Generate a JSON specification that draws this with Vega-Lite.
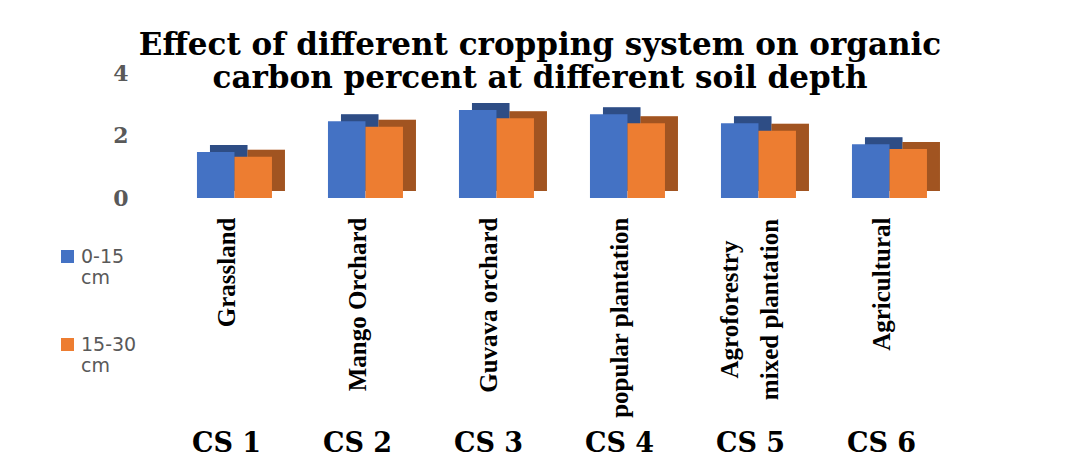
{
  "$schema": "https://vega.github.io/schema/vega-lite/v6.json",
  "width": 786,
  "height": 125,
  "autosize": "none",
  "padding": {"left": 169, "top": 73, "right": 111, "bottom": 262},
  "background": "white",
  "title": {
    "text": ["Effect of different cropping system on organic", "carbon percent at different soil depth"],
    "font": "DejaVu Serif",
    "fontSize": 31,
    "fontWeight": "bold",
    "color": "black",
    "anchor": "middle",
    "dx": -22,
    "offset": -33,
    "lineHeight": 33
  },
  "data": {
    "values": [
      {"cs": "CS 1", "system": "Grassland", "depth": "0-15 cm", "oc": 1.47},
      {"cs": "CS 1", "system": "Grassland", "depth": "15-30 cm", "oc": 1.32},
      {"cs": "CS 2", "system": "Mango Orchard", "depth": "0-15 cm", "oc": 2.46},
      {"cs": "CS 2", "system": "Mango Orchard", "depth": "15-30 cm", "oc": 2.28},
      {"cs": "CS 3", "system": "Guvava orchard", "depth": "0-15 cm", "oc": 2.82},
      {"cs": "CS 3", "system": "Guvava orchard", "depth": "15-30 cm", "oc": 2.55},
      {"cs": "CS 4", "system": "popular plantation", "depth": "0-15 cm", "oc": 2.68},
      {"cs": "CS 4", "system": "popular plantation", "depth": "15-30 cm", "oc": 2.39},
      {"cs": "CS 5", "system": "Agroforestry mixed plantation", "depth": "0-15 cm", "oc": 2.39},
      {"cs": "CS 5", "system": "Agroforestry mixed plantation", "depth": "15-30 cm", "oc": 2.15},
      {"cs": "CS 6", "system": "Agricultural", "depth": "0-15 cm", "oc": 1.72},
      {"cs": "CS 6", "system": "Agricultural", "depth": "15-30 cm", "oc": 1.57}
    ]
  },
  "encoding": {
    "color": {
      "field": "depth",
      "type": "nominal",
      "scale": {"domain": ["0-15 cm", "15-30 cm"], "range": ["#4472C4", "#ED7D31"]},
      "legend": {
        "orient": "none",
        "legendX": -111,
        "legendY": 174,
        "title": null,
        "symbolType": "square",
        "symbolSize": 170,
        "symbolStrokeWidth": 0,
        "labelFont": "DejaVu Sans",
        "labelFontSize": 19,
        "labelColor": "#595959",
        "labelLineHeight": 24,
        "labelExpr": "split(datum.label, ' ')",
        "rowPadding": 47
      }
    },
    "y": {
      "field": "oc",
      "type": "quantitative",
      "scale": {"domain": [0, 4], "nice": false},
      "axis": {
        "values": [0, 2, 4],
        "domain": false,
        "ticks": false,
        "grid": false,
        "title": null,
        "labelFont": "DejaVu Serif",
        "labelFontSize": 22,
        "labelFontWeight": "bold",
        "labelColor": "#595959",
        "labelPadding": 41
      }
    }
  },
  "layer": [
    {
      "mark": {"type": "bar", "yOffset": -7, "y2Offset": -7},
      "encoding": {
        "x": {
          "field": "cs",
          "type": "nominal",
          "sort": null,
          "scale": {"paddingInner": 0.427, "paddingOuter": 0.2135},
          "axis": {
            "orient": "bottom",
            "title": null,
            "domain": false,
            "ticks": false,
            "labelAngle": -90,
            "labelFont": "Liberation Serif",
            "labelFontSize": 25,
            "labelFontWeight": "bold",
            "labelColor": "black",
            "labelPadding": {"condition": {"test": "datum.value == 'CS 5'", "value": 111}, "value": 19},
            "labelAlign": {"condition": {"test": "datum.value == 'CS 5'", "value": "center"}, "value": "right"},
            "labelOffset": {"condition": {"test": "datum.value == 'CS 5'", "value": -29}, "value": -8},
            "labelLineHeight": 40,
            "labelLimit": 400,
            "labelOverlap": false,
            "labelBound": false,
            "labelExpr": "{'CS 1': 'Grassland', 'CS 2': 'Mango Orchard', 'CS 3': 'Guvava orchard', 'CS 4': 'popular plantation', 'CS 5': ['Agroforestry', 'mixed plantation'], 'CS 6': 'Agricultural'}[datum.label]"
          }
        },
        "xOffset": {"field": "depth", "type": "nominal", "sort": ["0-15 cm", "15-30 cm"], "scale": {"paddingInner": 0, "paddingOuter": 0, "range": [13, 88]}}
      }
    },
    {
      "mark": {"type": "bar", "yOffset": -7, "y2Offset": -7, "opacity": 0.32},
      "encoding": {
        "x": {"field": "cs", "type": "nominal", "sort": null, "scale": {"paddingInner": 0.427, "paddingOuter": 0.2135}, "axis": null},
        "xOffset": {"field": "depth", "type": "nominal", "sort": ["0-15 cm", "15-30 cm"], "scale": {"paddingInner": 0, "paddingOuter": 0, "range": [13, 88]}},
        "color": {"value": "black"}
      }
    },
    {
      "mark": {"type": "bar"},
      "encoding": {
        "x": {
          "field": "cs",
          "type": "nominal",
          "sort": null,
          "scale": {"paddingInner": 0.427, "paddingOuter": 0.2135},
          "axis": {
            "orient": "bottom",
            "offset": 226,
            "title": null,
            "domain": false,
            "ticks": false,
            "labelAngle": 0,
            "labelFont": "DejaVu Serif",
            "labelFontSize": 27,
            "labelFontWeight": "bold",
            "labelColor": "black",
            "labelBaseline": "top",
            "labelPadding": 6,
            "labelOffset": -8
          }
        },
        "xOffset": {"field": "depth", "type": "nominal", "sort": ["0-15 cm", "15-30 cm"], "scale": {"paddingInner": 0, "paddingOuter": 0, "range": [0, 75]}}
      }
    }
  ],
  "resolve": {"axis": {"x": "independent"}, "scale": {"xOffset": "independent"}},
  "config": {"view": {"stroke": null}}
}
